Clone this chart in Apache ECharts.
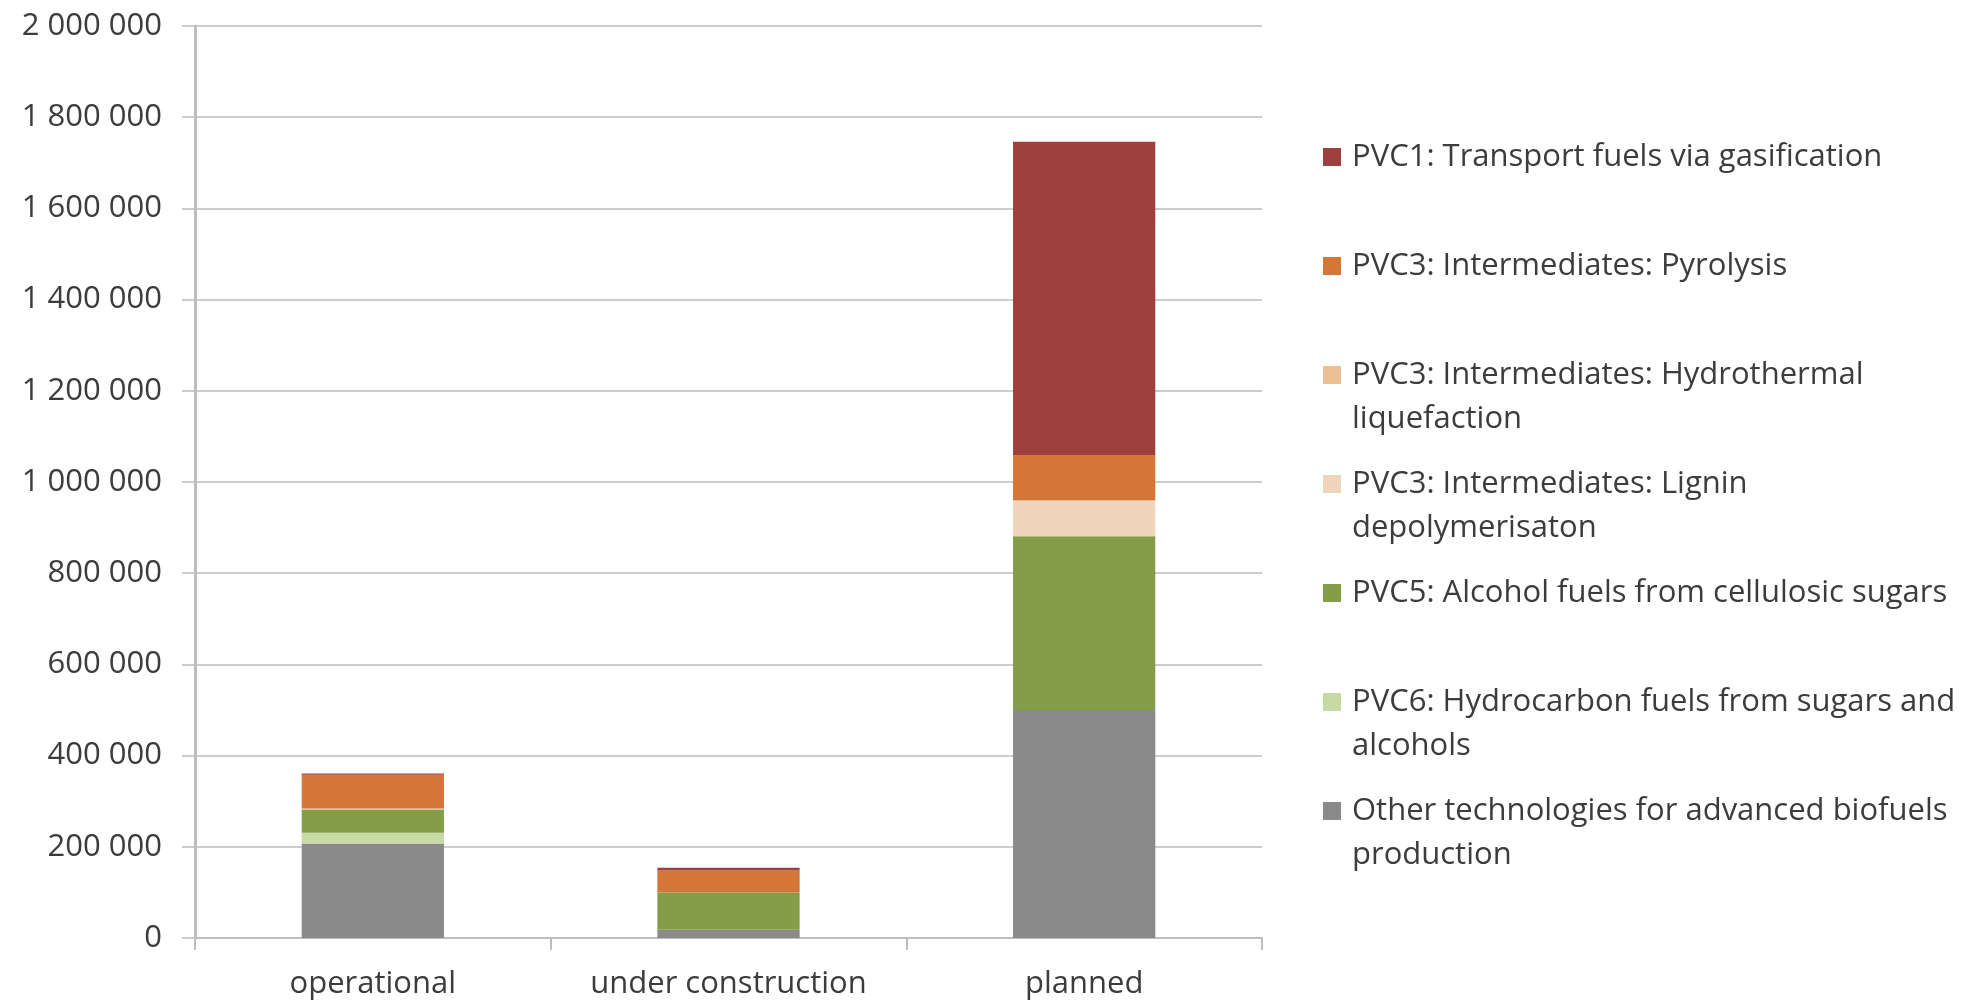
<!DOCTYPE html>
<html>
<head>
<meta charset="utf-8">
<title>Advanced biofuels capacity by project status</title>
<script src="https://cdn.jsdelivr.net/npm/echarts@6/dist/echarts.min.js"></script>
<style>
  html, body { margin: 0; padding: 0; background: #ffffff; }
  #chart { width: 1969px; height: 1002px; }
</style>
</head>
<body>
<div id="chart"></div>
<script>
// Project status categories
const categories = ['operational', 'under construction', 'planned'];

// Capacity per technology pathway (stacked, bottom to top)
const otherTech    = [207000, 18000, 500000];
const pvc6Hydrocarbon = [24000, 0, 0];
const pvc5Alcohol  = [51000, 82000, 381000];
const pvc3Lignin   = [0, 0, 77000];
const pvc3Hydrothermal = [2000, 0, 2000];
const pvc3Pyrolysis = [74000, 48000, 99000];
const pvc1Gasification = [3000, 6000, 687000];

// Value axis ticks
const yMin = 0;
const yMax = 2000000;
const yStep = 200000;

const seriesDefs = [
  { name: 'Other technologies for advanced biofuels\nproduction', data: otherTech, color: '#8a8a8a' },
  { name: 'PVC6: Hydrocarbon fuels from sugars and\nalcohols', data: pvc6Hydrocarbon, color: '#c8daa4' },
  { name: 'PVC5: Alcohol fuels from cellulosic sugars', data: pvc5Alcohol, color: '#839d49' },
  { name: 'PVC3: Intermediates: Lignin\ndepolymerisaton', data: pvc3Lignin, color: '#f0d5bd' },
  { name: 'PVC3: Intermediates: Hydrothermal\nliquefaction', data: pvc3Hydrothermal, color: '#eabf93' },
  { name: 'PVC3: Intermediates: Pyrolysis', data: pvc3Pyrolysis, color: '#d47638' },
  { name: 'PVC1: Transport fuels via gasification', data: pvc1Gasification, color: '#9e403d' }
];

const FONT = 'Open Sans';
const FONT_SIZE = 31;
const TEXT = '#3c3c3c';
const GRID = '#bdbdbd';

function spaced(v) {
  return String(v).replace(/\B(?=(\d{3})+(?!\d))/g, ' ');
}

const chart = echarts.init(document.getElementById('chart'), null, { renderer: 'canvas' });

chart.setOption({
  animation: false,
  backgroundColor: '#ffffff',
  textStyle: { fontFamily: FONT },
  grid: { left: 195, right: 707, top: 26, bottom: 64, containLabel: false },
  legend: {
    orient: 'vertical',
    left: 1323,
    top: 135,
    padding: 0,
    itemGap: 21,
    itemWidth: 24,
    itemHeight: 88,
    // square marker sits beside the first text line of each entry
    icon: 'path://M0,0L24,0L24,0Z M0,13L18,13L18,31L0,31Z M0,88L24,88L24,88Z',
    selectedMode: false,
    data: seriesDefs.slice().reverse().map(s => s.name),
    formatter: name => name.indexOf('\n') >= 0 ? name : name + '\n ',
    textStyle: { fontFamily: FONT, fontSize: FONT_SIZE, color: TEXT, lineHeight: 44 }
  },
  xAxis: {
    type: 'category',
    data: categories,
    axisLine: { show: true, lineStyle: { color: GRID, width: 2 } },
    axisTick: { show: true, length: 12, lineStyle: { color: GRID, width: 2 } },
    axisLabel: {
      fontFamily: FONT, fontSize: FONT_SIZE, color: TEXT, margin: 31,
      interval: 0, hideOverlap: false
    }
  },
  yAxis: {
    type: 'value',
    min: yMin,
    max: yMax,
    interval: yStep,
    axisLine: { show: true, lineStyle: { color: GRID, width: 3 } },
    axisTick: { show: true, length: 13, lineStyle: { color: GRID, width: 1.5 } },
    splitLine: { show: true, lineStyle: { color: GRID, width: 1.5 } },
    axisLabel: { fontFamily: FONT, fontSize: FONT_SIZE, color: TEXT, margin: 33, formatter: v => spaced(v) }
  },
  series: seriesDefs.map(s => ({
    type: 'bar',
    name: s.name,
    stack: 'capacity',
    data: s.data,
    barWidth: '40%',
    itemStyle: { color: s.color },
    emphasis: { disabled: true }
  }))
});
</script>
</body>
</html>
